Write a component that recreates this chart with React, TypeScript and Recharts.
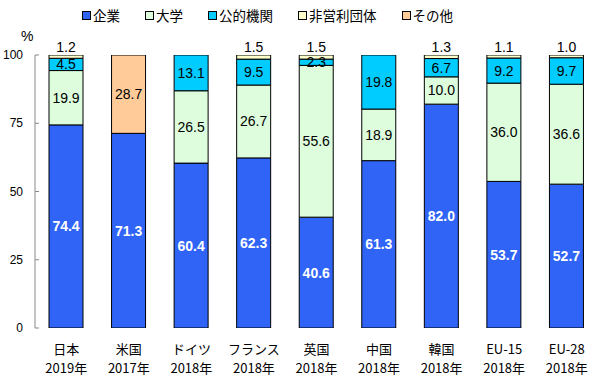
import React from 'react';
import { BarChart, Bar, XAxis, YAxis, LabelList } from 'recharts';

const categories = ['日本', '米国', 'ドイツ', 'フランス', '英国', '中国', '韓国', 'EU-15', 'EU-28'];
const years = ['2019年', '2017年', '2018年', '2018年', '2018年', '2018年', '2018年', '2018年', '2018年'];
const business = [74.4, 71.3, 60.4, 62.3, 40.6, 61.3, 82.0, 53.7, 52.7];
const university = [19.9, null, 26.5, 26.7, 55.6, 18.9, 10.0, 36.0, 36.6];
const government = [4.5, null, 13.1, 9.5, 2.3, 19.8, 6.7, 9.2, 9.7];
const nonprofit = [1.2, null, null, 1.5, 1.5, null, 1.3, 1.1, 1.0];
const other = [null, 28.7, null, null, null, null, null, null, null];
const yTicks = [0, 25, 50, 75, 100];
const boundaryTicks = [1, 2, 3, 4, 5, 6, 7, 8];

const series = [
  { key: 'business', name: '企業', values: business, color: '#2F64F6' },
  { key: 'university', name: '大学', values: university, color: '#DDFDDD' },
  { key: 'government', name: '公的機関', values: government, color: '#00CCFF' },
  { key: 'nonprofit', name: '非営利団体', values: nonprofit, color: '#FFFFCC' },
  { key: 'other', name: 'その他', values: other, color: '#FFCC99' },
];

const data = categories.map((c, i) => {
  const row: any = { name: c, year: years[i], idx: i };
  series.forEach((s) => {
    row[s.key] = s.values[i];
  });
  return row;
});

const FONT = '"Liberation Sans", "Noto Sans CJK JP", sans-serif';
const JFONT = '"Noto Sans CJK JP", "Liberation Sans", sans-serif';

const fmt = (v: any) => (v == null || v === 0 ? '' : Number(v).toFixed(1));

const XTick = (props: any) => {
  const { x, y, payload } = props;
  const i = payload.index ?? categories.indexOf(payload.value);
  return (
    <g>
      <text x={x} y={y + 18} textAnchor="middle" fontSize={13} fontFamily={JFONT} fill="#000">
        {payload.value}
      </text>
      <text x={x} y={y + 37} textAnchor="middle" fontSize={13} fontFamily={JFONT} fill="#000">
        {years[i]}
      </text>
    </g>
  );
};

const BoundaryTick = (props: any) => {
  const { x, y } = props;
  return <line x1={x} x2={x} y1={y} y2={y - 4} stroke="#444" strokeWidth={1} />;
};

const YTick = (props: any) => {
  const { x, y, payload } = props;
  return (
    <g>
      <line x1={x} x2={x + 4} y1={y} y2={y} stroke="#888" strokeWidth={1} />
      <text x={x - 12} y={y + 4} textAnchor="end" fontSize={12} fontFamily={FONT} fill="#000">
        {payload.value}
      </text>
    </g>
  );
};

export default function App() {
  return (
    <div style={{ position: 'absolute', left: 0, top: 0, width: 600, height: 381, background: '#fff' }}>
      <div
        style={{
          position: 'absolute',
          top: 5,
          left: 82,
          display: 'flex',
          gap: 25,
          fontFamily: JFONT,
          fontSize: 13.5,
          lineHeight: '20px',
        }}
      >
        {series.map((s) => (
          <div key={s.key} style={{ display: 'flex', alignItems: 'center' }}>
            <span
              style={{
                display: 'inline-block',
                width: 7,
                height: 7,
                background: s.color,
                border: '1px solid #000',
                marginRight: 2,
              }}
            />
            <span>{s.name}</span>
          </div>
        ))}
      </div>
      <div style={{ position: 'absolute', left: 21, top: 28, fontFamily: FONT, fontSize: 14 }}>%</div>
      <BarChart
        width={600}
        height={381}
        data={data}
        margin={{ top: 55, right: 2, bottom: 0, left: 0 }}
        barSize={34}
      >
        <XAxis
          xAxisId="grid"
          type="number"
          domain={[0, 9]}
          ticks={boundaryTicks}
          height={0}
          tickSize={0}
          tickMargin={0}
          tickLine={false}
          tick={<BoundaryTick />}
          axisLine={{ stroke: '#000' }}
          allowDataOverflow
        />
        <XAxis
          dataKey="name"
          height={53}
          axisLine={false}
          tickLine={false}
          interval={0}
          tick={<XTick />}
        />
        <XAxis
          xAxisId="top"
          orientation="top"
          type="number"
          domain={[0, 1]}
          height={0}
          tick={false}
          tickLine={false}
          axisLine={{ stroke: '#000' }}
          allowDataOverflow
        />
        <YAxis
          domain={[0, 100]}
          ticks={yTicks}
          width={35}
          tickSize={0}
          tickMargin={0}
          tickLine={false}
          axisLine={{ stroke: '#888' }}
          tick={<YTick />}
          allowDataOverflow
        />
        <YAxis
          yAxisId="right"
          orientation="right"
          domain={[0, 1]}
          width={0}
          tick={false}
          tickLine={false}
          axisLine={{ stroke: '#000' }}
        />
        {series.map((s) => (
          <Bar
            key={s.key}
            dataKey={s.key}
            name={s.name}
            stackId="a"
            fill={s.color}
            stroke="#000"
            strokeWidth={1}
            isAnimationActive={false}
          >
            <LabelList
              dataKey={s.key}
              position={s.key === 'nonprofit' ? 'top' : 'center'}
              offset={3}
              formatter={fmt}
              fill={s.key === 'business' ? '#fff' : '#000'}
              fontWeight={s.key === 'business' ? 'bold' : 'normal'}
              fontSize={14}
              fontFamily={FONT}
            />
          </Bar>
        ))}
      </BarChart>
    </div>
  );
}
